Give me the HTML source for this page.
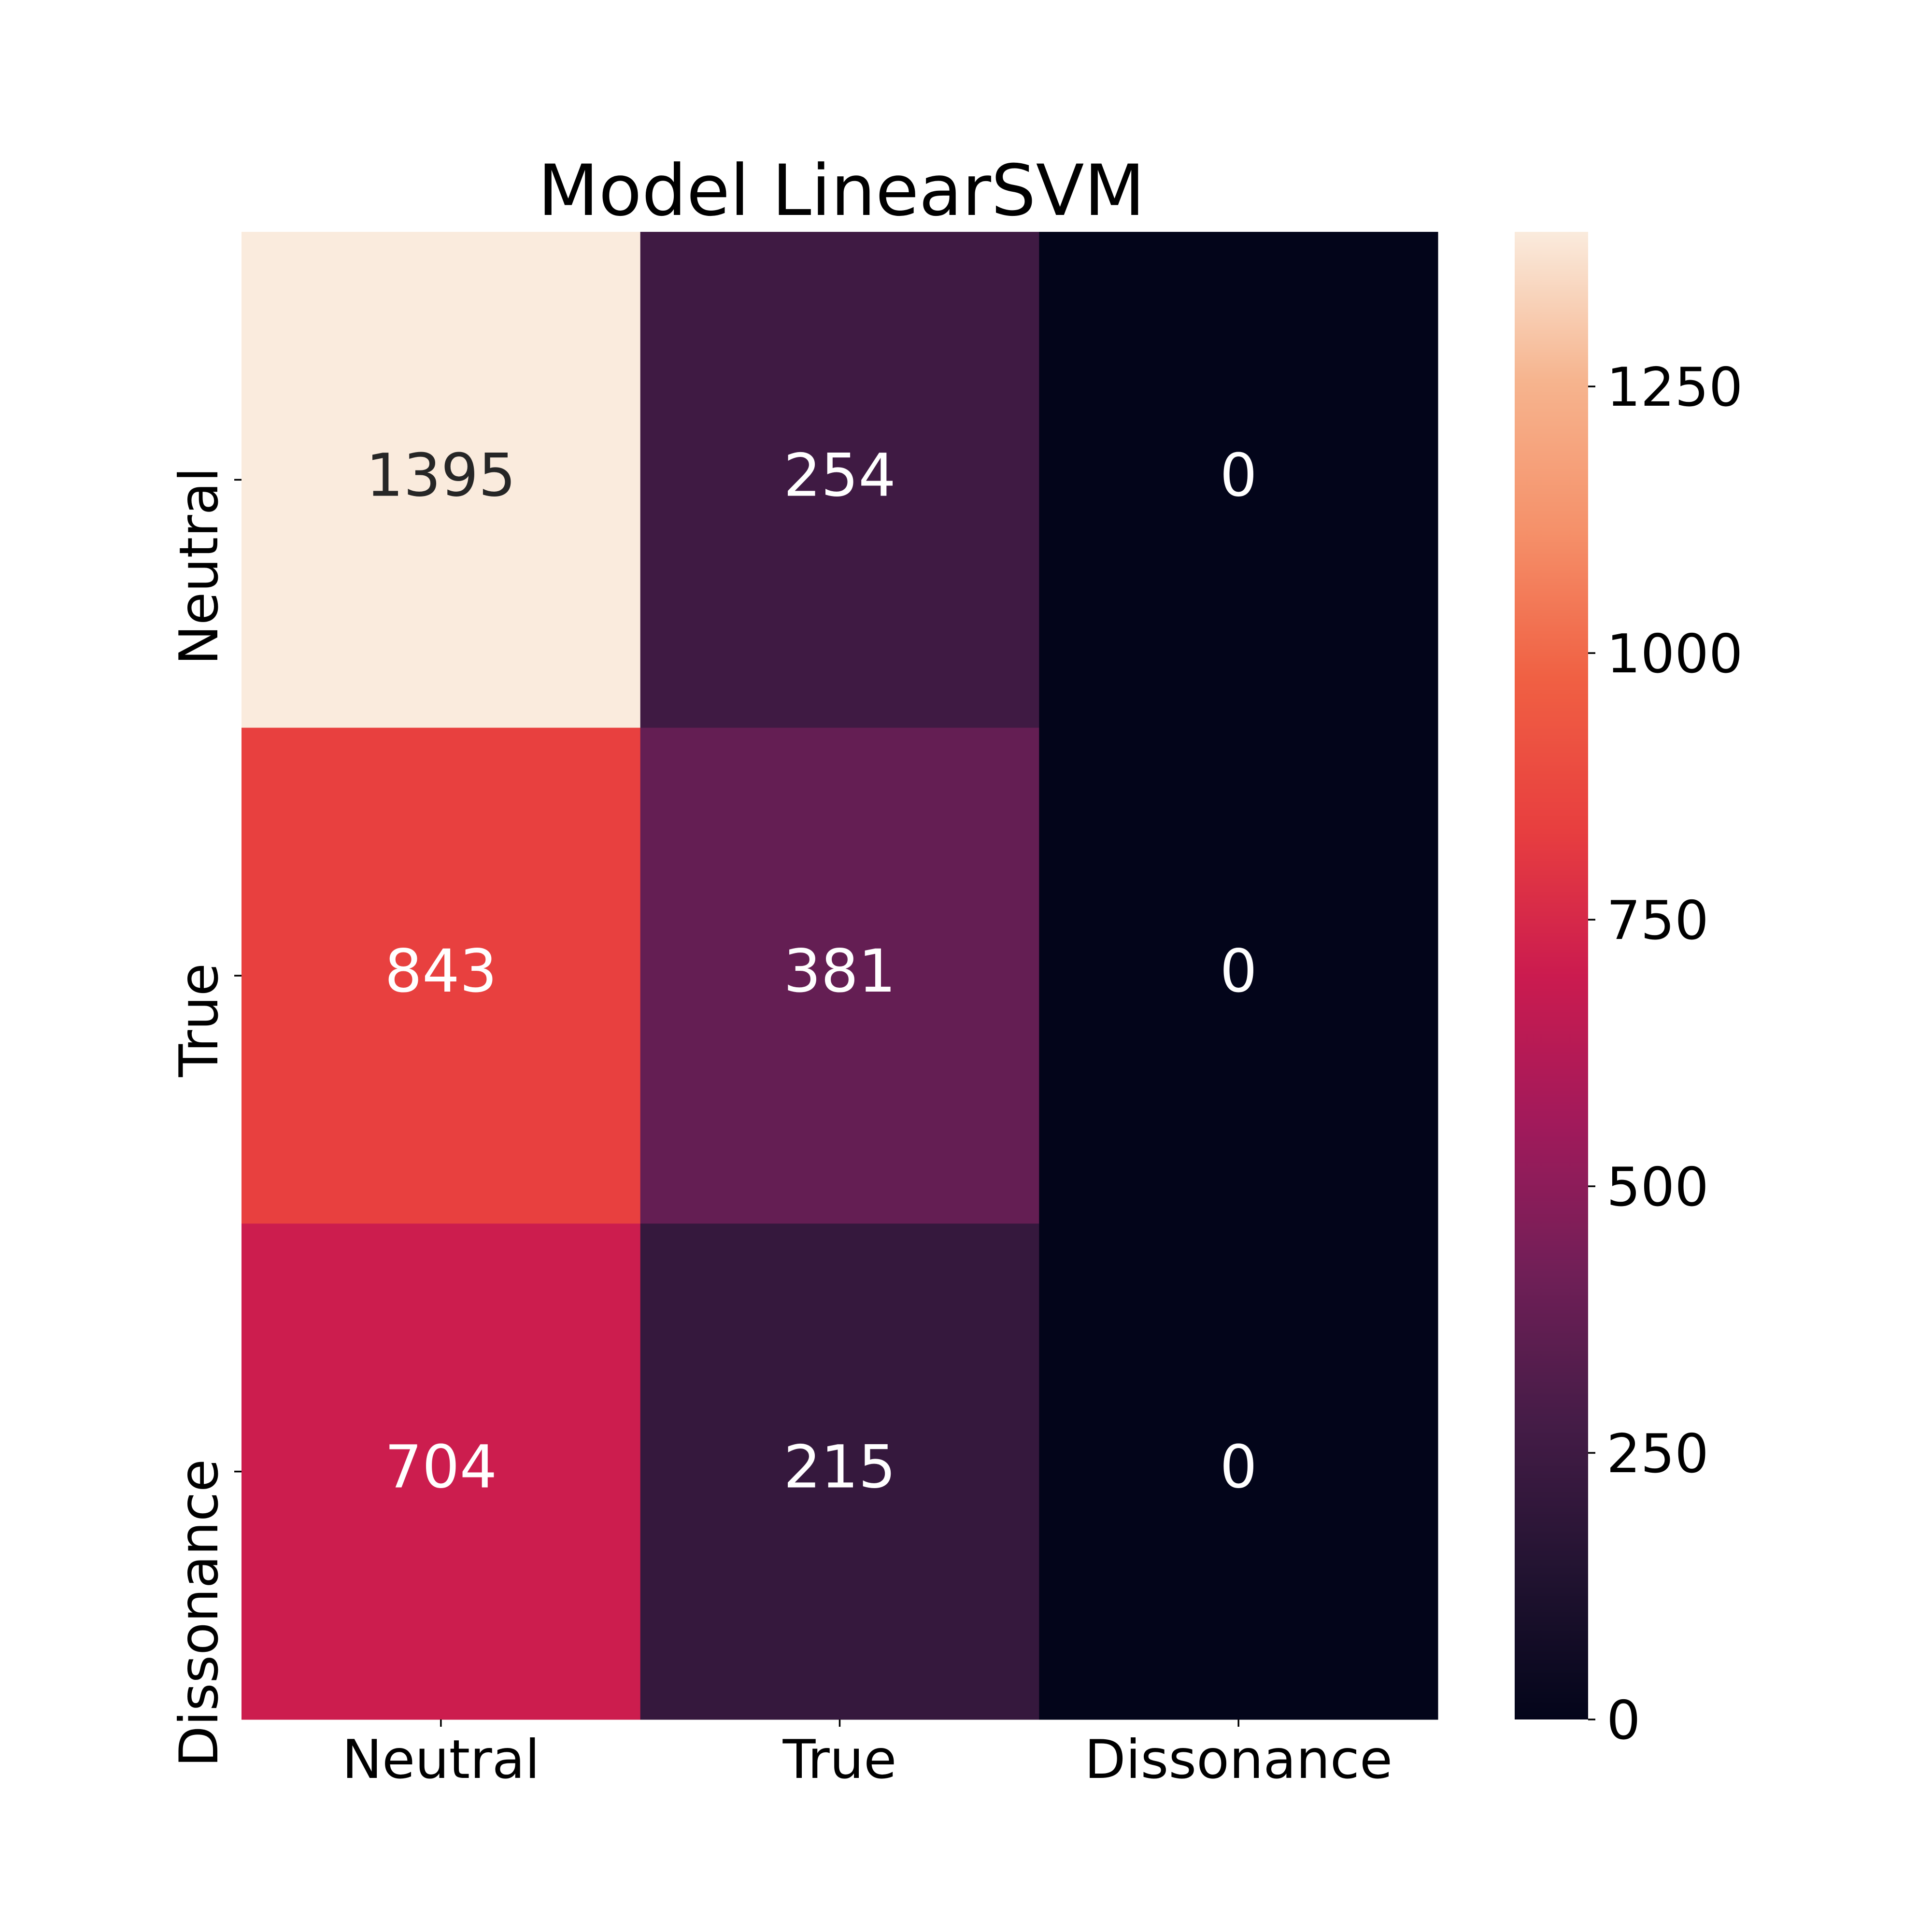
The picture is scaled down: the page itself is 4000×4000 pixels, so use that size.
<!DOCTYPE html>
<html><head><meta charset="utf-8"><style>
html,body{margin:0;padding:0;background:#fff;}
svg{display:block;font-family:"DejaVu Sans","Liberation Sans",sans-serif;}
</style></head><body>
<svg id="chart" width="4000" height="4000" viewBox="0 0 4000 4000" xmlns="http://www.w3.org/2000/svg">
<rect width="4000" height="4000" fill="#fff"/>
<defs><linearGradient id="rocket" x1="0" y1="1" x2="0" y2="0"></linearGradient></defs>
<text x="1742" y="445" font-size="146" text-anchor="middle" fill="#000">Model LinearSVM</text>
<g id="cells"></g>
<g id="axes"></g>
<g id="cbar"></g>
</svg>
<script>
const rowLabels = ["Neutral","True","Dissonance"];
const colLabels = ["Neutral","True","Dissonance"];
const row0 = [1395, 254, 0];
const row1 = [843, 381, 0];
const row2 = [704, 215, 0];
const cbarTicks = [0, 250, 500, 750, 1000, 1250];
const vmin = 0, vmax = 1395;

const matrix = [row0, row1, row2];
const NS = "http://www.w3.org/2000/svg";
const L = 500, R = 2977, T = 480, B = 3560;
const cbL = 3136, cbR = 3288;
const stops = ["#03051a","#221331","#451c47","#701f57","#a11a5b","#cb1b4f","#e83f3f","#f06043","#f5916a","#f6b48e","#faebdd"];
function hex(h){return [1,3,5].map(i=>parseInt(h.substr(i,2),16));}
function cmap(t){
  t=Math.max(0,Math.min(1,t));
  const p=t*(stops.length-1), i=Math.min(Math.floor(p),stops.length-2), f=p-i;
  const a=hex(stops[i]), b=hex(stops[i+1]);
  return "rgb("+a.map((v,k)=>Math.round(v+(b[k]-v)*f)).join(",")+")";
}
const nR = rowLabels.length, nC = colLabels.length;
const cw = (R-L)/nC, ch = (B-T)/nR;
function xPos(j){return L + j*cw;}
function yPos(i){return T + i*ch;}
function cbY(v){return B - (v-vmin)/(vmax-vmin)*(B-T);}
function mk(tag, attrs, parent){const e=document.createElementNS(NS,tag);for(const k in attrs)e.setAttribute(k,attrs[k]);parent.appendChild(e);return e;}

const cells = document.getElementById('cells');
for(let i=0;i<nR;i++){
  for(let j=0;j<nC;j++){
    const v = matrix[i][j], t=(v-vmin)/(vmax-vmin);
    const r = mk('rect',{x:xPos(j),y:yPos(i),width:cw+0.5,height:ch+0.5,fill:cmap(t)},cells);
    
    
    const tx = mk('text',{x:xPos(j)+cw/2,y:yPos(i)+ch/2+33,'font-size':122,'text-anchor':'middle',fill:t>0.75?'#262626':'#ffffff'},cells);
    tx.textContent = v;
    
    
  }
}
const axes = document.getElementById('axes');
for(let i=0;i<nR;i++){
  const cy = yPos(i)+ch/2;
  const tk = mk('line',{x1:L-15,x2:L,y1:cy,y2:cy,stroke:'#000','stroke-width':3.5},axes);
  
  
  const lb = mk('text',{x:0,y:0,'font-size':111,'text-anchor':'end',transform:'translate(450,'+(cy-26)+') rotate(-90)'},axes);
  lb.textContent = rowLabels[i];
  
  
}
for(let j=0;j<nC;j++){
  const cx = xPos(j)+cw/2;
  const tk = mk('line',{x1:cx,x2:cx,y1:B,y2:B+15,stroke:'#000','stroke-width':3.5},axes);
  
  
  const lb = mk('text',{x:cx,y:3681,'font-size':111,'text-anchor':'middle'},axes);
  lb.textContent = colLabels[j];
  
  
}
const grad = document.getElementById('rocket');
stops.forEach((c,k)=>{mk('stop',{offset:(k/(stops.length-1)),'stop-color':c},grad);});
const cb = document.getElementById('cbar');
const cbr = mk('rect',{x:cbL,y:T,width:cbR-cbL,height:B-T,fill:'url(#rocket)'},cb);


cbarTicks.forEach(v=>{
  const y = cbY(v);
  const tk = mk('line',{x1:cbR,x2:cbR+15,y1:y,y2:y,stroke:'#000','stroke-width':3.5},cb);
  
  
  const lb = mk('text',{x:cbR+38,y:y+40,'font-size':111},cb);
  lb.textContent = v;
  
  
});
</script>
</body></html>
